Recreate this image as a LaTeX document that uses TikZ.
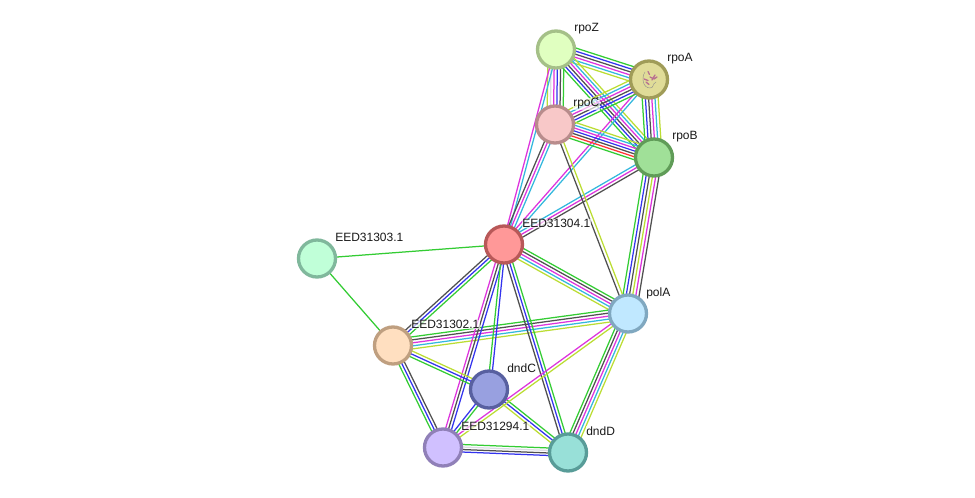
\documentclass[tikz,border=0pt]{standalone}
\usepackage{fontspec}
\setmainfont{Liberation Sans}
\usetikzlibrary{calc,backgrounds}
\definecolor{grn}{HTML}{33CC33}
\definecolor{blu}{HTML}{3333EE}
\definecolor{mag}{HTML}{DD33DD}
\definecolor{cya}{HTML}{33B8DD}
\definecolor{yel}{HTML}{BBDD33}
\definecolor{blk}{HTML}{505050}
\definecolor{rdd}{HTML}{FF3333}
\definecolor{pal}{HTML}{DCDCE4}
% protein fills and their darker rims
\definecolor{HZ}{HTML}{E0FFC0}\definecolor{HZd}{HTML}{A5C088}
\definecolor{HA}{HTML}{E0DC98}\definecolor{HAd}{HTML}{A09C58}
\definecolor{HC}{HTML}{F8C8C8}\definecolor{HCd}{HTML}{B88C8C}
\definecolor{HB}{HTML}{A0E098}\definecolor{HBd}{HTML}{609C58}
\definecolor{HE}{HTML}{FF9898}\definecolor{HEd}{HTML}{B85858}
\definecolor{HT}{HTML}{C0FFD8}\definecolor{HTd}{HTML}{80B89C}
\definecolor{HP}{HTML}{C0E8FF}\definecolor{HPd}{HTML}{80A8C0}
\definecolor{HS}{HTML}{FFDFC0}\definecolor{HSd}{HTML}{BF9F80}
\definecolor{HN}{HTML}{98A0E0}\definecolor{HNd}{HTML}{5860A0}
\definecolor{HU}{HTML}{D0C0FF}\definecolor{HUd}{HTML}{9080B8}
\definecolor{HD}{HTML}{98E0D8}\definecolor{HDd}{HTML}{589C98}
\definecolor{HF}{HTML}{B87090}
\tikzset{
  protein/.style={circle,draw,line width=3.3pt,minimum size=37pt,inner sep=0pt},
  link/.style={line width=1.25pt},
  tag/.style={anchor=west,font=\fontsize{12}{14}\selectfont,text=black!90,
    fill=white,fill opacity=.65,text opacity=1,inner sep=.6pt},
}
% A bundle of parallel evidence lines between two proteins; the first colour
% lies on the left-hand side when travelling from the first to the second.
\newcommand{\linkbundle}[4][3]{%
  \gdef\edgeCount{0}%
  \foreach \c in {#4} {\pgfmathtruncatemacro\edgeTmp{\edgeCount+1}\global\let\edgeCount\edgeTmp}%
  \foreach \c [count=\i] in {#4} {%
    \pgfmathsetmacro\off{(\edgeCount+1-2*\i)/2*#1}%
    \draw[link,\c] ($(#2)!\off pt!90:(#3)$) -- ($(#3)!\off pt!-90:(#2)$);
  }%
}
\begin{document}
\begin{tikzpicture}[x=1pt,y=-1pt]
\useasboundingbox (0,0) rectangle (975,498);
% proteins
\node[protein,fill=HZ,draw=HZd] (rpoZ) at (556,49.5) {};
\node[protein,fill=HA,draw=HAd] (rpoA) at (649,79.5) {};
\node[protein,fill=HC,draw=HCd] (rpoC) at (555,124.5) {};
\node[protein,fill=HB,draw=HBd] (rpoB) at (654,157.5) {};
\node[protein,fill=HE,draw=HEd] (e304) at (504,244.5) {};
\node[protein,fill=HT,draw=HTd] (e303) at (317,258.5) {};
\node[protein,fill=HP,draw=HPd] (polA) at (628,313.5) {};
\node[protein,fill=HS,draw=HSd] (e302) at (393,345.5) {};
\node[protein,fill=HN,draw=HNd] (dndC) at (489,389.5) {};
\node[protein,fill=HU,draw=HUd] (e294) at (443,447.5) {};
\node[protein,fill=HD,draw=HDd] (dndD) at (568,452.5) {};
% interaction evidence
\begin{pgfonlayer}{background}
\fill[white] (0,0) rectangle (975,498);
\linkbundle{rpoZ}{rpoA}{grn,blu,blk,mag,cya,yel}
\linkbundle{rpoZ}{rpoB}{yel,cya,mag,blk,blu,grn}
\linkbundle[3.2]{rpoZ}{rpoC}{grn,blk,blu,mag,pal,yel}
\linkbundle{rpoZ}{e304}{cya,mag}
\linkbundle{rpoC}{e304}{cya,mag,blk}
\linkbundle{rpoA}{e304}{cya,mag}
\linkbundle{rpoB}{e304}{blk,mag,cya}
\linkbundle{rpoA}{rpoC}{grn,blu,blk,mag,cya,yel}
\linkbundle[2.8]{rpoC}{rpoB}{yel,cya,mag,blu,blk,rdd,grn}
\linkbundle[3.2]{rpoA}{rpoB}{yel,cya,mag,blk,blu,grn}
\linkbundle[3.2]{rpoB}{polA}{blk,mag,yel,blk,blu,grn}
\linkbundle[3.4]{rpoC}{polA}{yel,blk}
\linkbundle{e304}{polA}{grn,blk,mag,cya,yel}
\linkbundle{e302}{polA}{grn,blk,mag,cya,yel}
\linkbundle{e304}{e302}{grn,blu,blk}
\linkbundle{e304}{e294}{blu,blk,mag}
\linkbundle{e304}{dndC}{blu,grn}
\linkbundle{e304}{dndD}{grn,blu,blk}
\linkbundle{e303}{e304}{grn}
\linkbundle{e303}{e302}{grn}
\linkbundle{e302}{dndC}{yel,blu,grn}
\linkbundle{e302}{e294}{blk,blu,grn}
\linkbundle{dndC}{e294}{grn,blu}
\linkbundle{dndC}{dndD}{grn,blu,yel}
\linkbundle[2.5]{e294}{dndD}{grn,pal,blk,blu}
\linkbundle[3]{e294}{polA}{mag,yel}
\linkbundle{polA}{dndD}{yel,cya,mag,blk,grn}
\end{pgfonlayer}
% small structure picture inside rpoA
\draw[black!45,line width=.4pt] (645,72) .. controls (641,78) and (643,88) .. (650,88)
  .. controls (654,88) and (652,84) .. (656,82);
\draw[HF,line width=1.3pt,line cap=round] (648,71.5) -- (649.5,74.5) (644,79) -- (648,80.5)
  (646,82) -- (649,84.5) (652,80) -- (655,75) (654,79) -- (657,77) (650,77) -- (652,78);
% labels
\node[tag] (lZ) at (573.5,29) {rpoZ};
\node[tag] (lA) at (666.5,59) {rpoA};
\node[tag] (lC) at (572.5,104) {rpoC};
\node[tag] (lB) at (671.5,137) {rpoB};
\node[tag] (lE) at (521.5,223.5) {EED31304.1};
\node[tag] (lT) at (334.5,237.5) {EED31303.1};
\node[tag] (lP) at (645.5,293) {polA};
\node[tag] (lS) at (410.5,324.5) {EED31302.1};
\node[tag] (lN) at (506.5,368.5) {dndC};
\node[tag] (lU) at (460.5,426.5) {EED31294.1};
\node[tag] (lD) at (585.5,431.5) {dndD};
\end{tikzpicture}
\end{document}
